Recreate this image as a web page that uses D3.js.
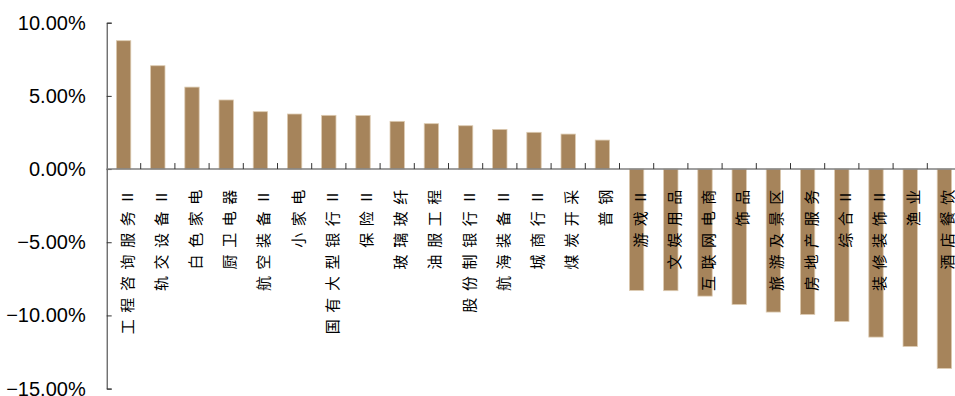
<!DOCTYPE html>
<html>
<head>
<meta charset="utf-8">
<script src="https://cdn.jsdelivr.net/npm/d3@7"></script>
<style>
  html, body { margin: 0; padding: 0; background: #ffffff; }
  svg { display: block; }
</style>
</head>
<body>
<svg id="chart" width="955" height="396"></svg>
<script>
// Industry return, sorted from best to worst
const categories = [
  "工程咨询服务Ⅱ", "轨交设备Ⅱ", "白色家电", "厨卫电器", "航空装备Ⅱ",
  "小家电", "国有大型银行Ⅱ", "保险Ⅱ", "玻璃玻纤", "油服工程",
  "股份制银行Ⅱ", "航海装备Ⅱ", "城商行Ⅱ", "煤炭开采", "普钢",
  "游戏Ⅱ", "文娱用品", "互联网电商", "饰品", "旅游及景区",
  "房地产服务", "综合Ⅱ", "装修装饰Ⅱ", "渔业", "酒店餐饮"
];
const values = [
  8.77, 7.06, 5.60, 4.72, 3.92,
  3.76, 3.67, 3.66, 3.26, 3.10,
  2.96, 2.71, 2.51, 2.39, 1.98,
  -8.29, -8.31, -8.68, -9.25, -9.77,
  -9.93, -10.41, -11.48, -12.12, -13.62
];
const yTicks = [10, 5, 0, -5, -10, -15];

const svg = d3.select("#chart");

const x = d3.scaleBand()
  .domain(categories)
  .range([106.5, 961.5])
  .paddingInner(0.58)
  .paddingOuter(0.29);

const y = d3.scaleLinear()
  .domain([-15, 10])
  .range([388.6, 22.7]);

const barFill = "#a6845b";
const barEdge = "#dccab0";

// bars
svg.append("g")
  .selectAll("rect")
  .data(categories)
  .join("rect")
  .attr("x", (d) => x(d))
  .attr("width", x.bandwidth())
  .attr("y", (d, i) => Math.min(y(values[i]), y(0)))
  .attr("height", (d, i) => Math.abs(y(values[i]) - y(0)))
  .attr("fill", barFill)
  .attr("stroke", barEdge)
  .attr("stroke-width", 0.8);

// y axis with inward ticks
const yAxis = d3.axisLeft(y)
  .tickValues(yTicks)
  .tickSize(-5)
  .tickPadding(21)
  .tickFormat((d) => d3.format(".2f")(d) + "%");

const gy = svg.append("g")
  .attr("transform", "translate(106.7,0)")
  .call(yAxis);
gy.select(".domain").attr("stroke", "#333333").attr("stroke-width", 1);
gy.selectAll(".tick line").attr("stroke", "#333333").attr("stroke-width", 1);
gy.selectAll(".tick text")
  .attr("fill", "#000000")
  .style("font-family", "Liberation Sans, Arial, sans-serif")
  .style("font-size", "20px");

// zero line with category boundary ticks
const x0 = x.range()[0];
const boundaries = categories.map((d) => x(d) + x.bandwidth() / 2 + x.step() / 2);

const gx = svg.append("g");
gx.append("line")
  .attr("x1", x0)
  .attr("x2", x.range()[1])
  .attr("y1", y(0))
  .attr("y2", y(0))
  .attr("stroke", "#7f7f7f")
  .attr("stroke-width", 1.5);
gx.selectAll("line.tick")
  .data(boundaries)
  .join("line")
  .attr("class", "tick")
  .attr("x1", (d) => d)
  .attr("x2", (d) => d)
  .attr("y1", y(0))
  .attr("y2", y(0) - 6)
  .attr("stroke", "#333333")
  .attr("stroke-width", 1);

// category labels, rotated to read bottom-to-top, hanging below the zero line
svg.append("g")
  .selectAll("text")
  .data(categories)
  .join("text")
  .attr("transform", (d) => `translate(${x(d) + x.bandwidth() / 2 + 2.5},${y(0) + 14}) rotate(-90)`)
  .attr("text-anchor", "end")
  .attr("dominant-baseline", "central")
  .style("font-family", "Noto Sans CJK SC, sans-serif")
  .style("font-size", "15px")
  .style("font-variant-east-asian", "full-width")
  .style("letter-spacing", "6.6px")
  .attr("fill", "#000000")
  .text((d) => d);
</script>
</body>
</html>
